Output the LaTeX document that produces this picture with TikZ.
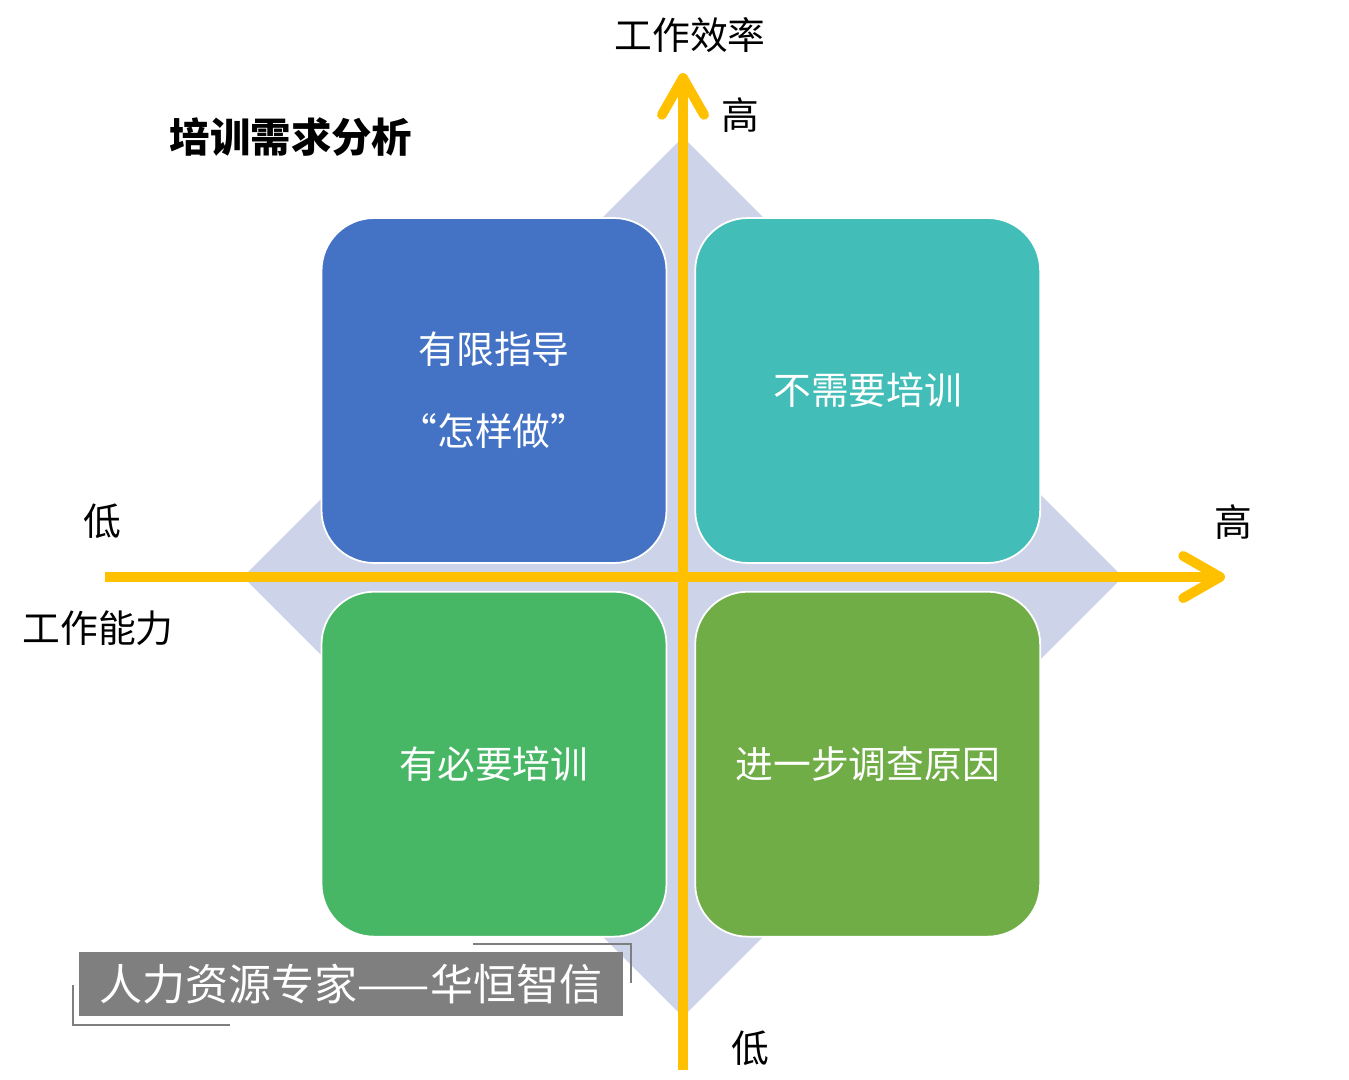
\documentclass[tikz,border=0pt]{standalone}
\usepackage{fontspec}
\setmainfont{Noto Sans CJK SC}
\usetikzlibrary{arrows.meta,positioning,shapes.geometric}
\definecolor{quadblue}{HTML}{4472C4}
\definecolor{quadteal}{HTML}{43BDB7}
\definecolor{quadgreen}{HTML}{47B765}
\definecolor{quadolive}{HTML}{70AD47}
\definecolor{backlilac}{HTML}{CDD3E9}
\definecolor{axisgold}{HTML}{FFC000}
\definecolor{markgray}{HTML}{7F7F7F}

\begin{document}
\begin{tikzpicture}[
x=0.02cm, y=-0.02cm,
node distance=0.54cm,
quad/.style={rectangle, draw=white, line width=1pt, rounded corners=1.05cm, minimum width=6.9cm, minimum height=6.9cm, text=white, align=center, font=\fontsize{21.5}{46.5}\selectfont},
axis/.style={draw=axisgold, line width=5.6pt, -{Straight Barb[length=21pt, width=24pt, round]}},
tag/.style={inner sep=0pt, font=\fontsize{21.5}{26}\selectfont}
]
\useasboundingbox (0,0) rectangle (1349,1079);

\node (back) [diamond, fill=backlilac, aspect=1, inner sep=0pt, minimum width=17.6cm, minimum height=17.6cm] at (683,577) {};

\node (guide) [quad, fill=quadblue] at (494,390.5) {有限指导\\“怎样做”};
\node (notrain) [quad, fill=quadteal, right=of guide] {不需要培训};
\node (train) [quad, fill=quadgreen, below=of guide] {有必要培训};
\node (check) [quad, fill=quadolive, right=of train] {进一步调查原因};

\coordinate (xlow) at (105,577);
\coordinate (xhigh) at (1225,577);
\coordinate (ylow) at (683,1070);
\coordinate (yhigh) at (683,73);
\draw [axis] (xlow) -- (xhigh);
\draw [axis] (ylow) -- (yhigh);

\node (yname) [tag] at (690,35) {工作效率};
\node (yhightag) [tag] at (740,115) {高};
\node (ylowtag) [tag] at (750,1048) {低};
\node (xname) [tag] at (98,628) {工作能力};
\node (xlowtag) [tag] at (102,521) {低};
\node (xhightag) [tag] at (1233,522) {高};
\node (title) [tag, font=\fontsize{23}{28}\selectfont\bfseries] at (291,137) {培训需求分析};

\node (mark) [fill=markgray, text=white, inner sep=0pt, minimum width=10.88cm, minimum height=1.28cm, font=\fontsize{24.5}{28}\selectfont] at (351,984) {人力资源专家——华恒智信};
\draw [markgray, line width=1.2pt] (473,944) -- (631,944) -- (631,983);
\draw [markgray, line width=1.2pt] (73,985) -- (73,1025) -- (230,1025);
\end{tikzpicture}
\end{document}
